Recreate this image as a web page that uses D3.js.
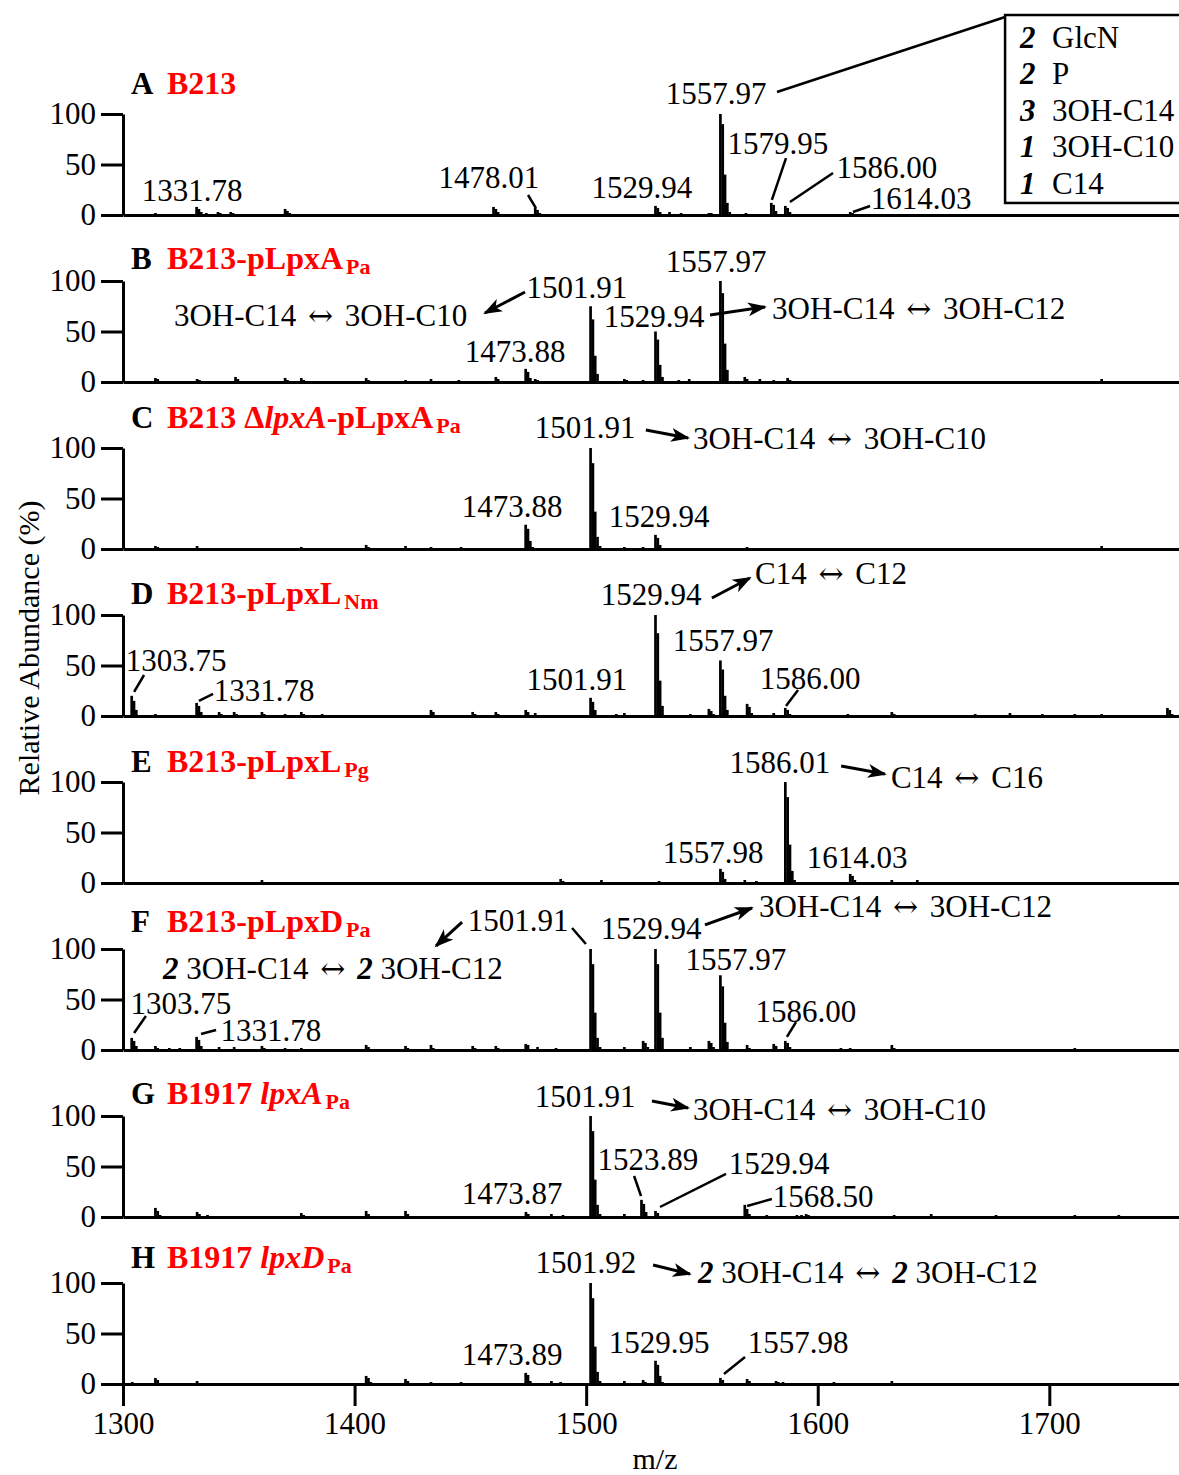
<!DOCTYPE html>
<html>
<head>
<meta charset="utf-8">
<script src="https://cdn.jsdelivr.net/npm/d3@7"></script>
<style>
  body { margin: 0; background: #fff; }
  text { font-family: "Liberation Serif", "Times New Roman", serif; white-space: pre; }
</style>
</head>
<body>
<div id="chart"></div>
<script>
// axis settings
const mzDomain = [1300, 1756];
const xTicks = [1300, 1400, 1500, 1600, 1700];
const yTicks = [0, 50, 100];

// panel headings
const panelLetters = ["A", "B", "C", "D", "E", "F", "G", "H"];
const panelTitles = [
  [{t: "B213"}],
  [{t: "B213-pLpxA"}, {t: "Pa", sub: true}],
  [{t: "B213 Δ"}, {t: "lpxA", it: true}, {t: "-pLpxA"}, {t: "Pa", sub: true}],
  [{t: "B213-pLpxL"}, {t: "Nm", sub: true}],
  [{t: "B213-pLpxL"}, {t: "Pg", sub: true}],
  [{t: "B213-pLpxD"}, {t: "Pa", sub: true}],
  [{t: "B1917 "}, {t: "lpxA", it: true}, {t: "Pa", sub: true}],
  [{t: "B1917 "}, {t: "lpxD", it: true}, {t: "Pa", sub: true}]
];
const titleV = [130.7, 122.8, 130.7, 121.8, 120.8, 127.7, 122.8, 125.7];

// spectra: [m/z, relative abundance %]
const peaksA = [[1314,2],[1331.78,8],[1332.78,6],[1333.78,3],[1336,2],[1341,3],[1342,2],[1346.5,3],[1347.5,2],[1350,1],[1352,1],
  [1370,6],[1371,4],[1372,2],[1388,1],[1395,1],[1397,1],[1460,8],[1461,6],[1462,3],[1478.01,7],[1479,5],[1480,2],[1493,1],[1500,1],
  [1516,1],[1529.94,9],[1530.94,7],[1531.94,3],[1536,3],[1537,1],[1541,2],[1549,1],[1553,2],[1554,2],
  [1557.97,100],[1558.97,90],[1559.97,40],[1560.97,12],[1562,3],[1569,2],[1572,1],[1575,1],
  [1579.95,12],[1580.95,10],[1581.95,4],[1586.00,9],[1587,7],[1588,3],[1597,1],[1614.03,3],[1615,2],[1640,1],[1680,1],[1700,1]];
const peaksB = [[1314,4],[1315,3],[1316,1],[1332,3],[1333,2],[1348.6,5],[1349.6,3],[1370,4],[1371,2],[1377,4],[1378,2],
  [1405,4],[1406,2],[1422,2],[1433,3],[1434,1],[1445,2],[1461,5],[1462,3],[1473.88,13],[1474.88,10],[1475.9,4],[1478,3],[1479,2],[1486,1],
  [1501.91,75],[1502.91,62],[1503.91,26],[1504.91,8],[1516.5,3],[1517.5,2],[1524.6,2],
  [1529.94,50],[1530.94,42],[1531.94,17],[1532.94,5],[1540,2],[1544.5,3],[1545.5,1],
  [1557.97,100],[1558.97,88],[1559.97,38],[1560.97,12],[1568.5,5],[1569.5,3],[1575,3],[1581,2],[1587,4],[1588,2],
  [1625,1],[1637,1],[1722.6,3],[1723.6,1]];
const peaksC = [[1314,3],[1315,2],[1332,3],[1333,1],[1377,2],[1405,4],[1406,2],[1422,3],[1433,2],[1446,2],
  [1473.88,24],[1474.88,20],[1475.88,8],[1476.88,2],[1501.91,100],[1502.91,85],[1503.91,37],[1504.91,12],[1506,3],
  [1516.5,2],[1524.6,2],[1529.94,14],[1530.94,11],[1531.94,4],[1569.5,2],[1722.6,3],[1723.6,1]];
const peaksD = [[1303.75,20],[1304.75,15],[1305.75,6],[1314,2],[1331.78,13],[1332.78,10],[1333.78,4],[1341.5,4],[1342.5,2],
  [1348,4],[1349,2],[1360,4],[1361,2],[1370,2],[1377,4],[1378,2],[1386,2],[1395,1],[1405,1],[1433,6],[1434,4],[1435,1],
  [1451,4],[1452,2],[1461,4],[1462,2],[1473.9,6],[1474.9,4],[1478,3],[1501.91,18],[1502.91,14],[1503.91,6],[1513,2],
  [1516.5,3],[1517.5,1],[1529.94,100],[1530.94,82],[1531.94,35],[1532.94,10],[1545,2],[1553,7],[1554,5],[1555,2],
  [1557.97,55],[1558.97,46],[1559.97,20],[1560.97,6],[1569.5,12],[1570.5,9],[1571.5,3],[1581,3],[1586.00,8],[1587,6],[1588,2],
  [1613,2],[1632,4],[1633,2],[1668,2],[1683,3],[1684,1],[1697,2],[1711,2],[1722.6,2],[1751,8],[1752,6],[1753,2]];
const peaksE = [[1318,1],[1331,1],[1344,1],[1360,3],[1361,1],[1377,1],[1393,1],[1416,1],[1439,1],[1489,4],[1490,2],
  [1506.6,3],[1507.6,1],[1531.5,2],[1557.98,14],[1558.98,11],[1559.98,4],[1568.5,3],[1573.5,2],
  [1586.01,100],[1587.01,85],[1588.01,38],[1589.01,12],[1590,3],[1614.03,9],[1615.03,7],[1616.03,3],
  [1632,3],[1643,3],[1644,1],[1668,1]];
const peaksF = [[1303.75,12],[1304.75,9],[1305.75,4],[1314,4],[1315,2],[1320,2],[1324.5,2],[1331.78,13],[1332.78,10],[1333.78,4],
  [1341.5,3],[1348,3],[1360,4],[1361,2],[1370,2],[1377,2],[1388,1],[1405,5],[1406,3],[1422,4],[1423,2],[1433,5],[1434,2],
  [1451,4],[1452,2],[1461,4],[1462,2],[1473.9,6],[1474.9,5],[1479,3],[1487,2],
  [1501.91,100],[1502.91,85],[1503.91,37],[1504.91,12],[1506,3],[1516.5,3],[1524.6,9],[1525.6,7],[1526.6,3],
  [1529.94,100],[1530.94,85],[1531.94,37],[1532.94,12],[1545,3],[1553,9],[1554,7],[1555,3],
  [1557.97,74],[1558.97,63],[1559.97,27],[1560.97,8],[1569.5,5],[1570.5,2],[1581,6],[1582,4],[1586.00,9],[1587,7],[1588,3],
  [1610,2],[1614,2],[1632,5],[1633,2],[1711,2]];
const peaksG = [[1314,9],[1315,6],[1316,2],[1332,5],[1333,3],[1336.5,2],[1377,4],[1378,2],[1405,6],[1406,3],[1422,6],[1423,3],
  [1474,5],[1475,3],[1485,3],[1490,2],[1501.91,100],[1502.91,85],[1503.91,37],[1504.91,12],[1506,3],[1516.5,3],
  [1523.89,17],[1524.89,13],[1525.89,5],[1529.94,6],[1530.94,4],[1568.50,12],[1569.5,8],[1570.5,3],[1578,2],
  [1591,2],[1593,2],[1595,3],[1596,2],[1633,2],[1649,3],[1650,1],[1677,2],[1711,2],[1730,2]];
const peaksH = [[1304,2],[1314,6],[1315,4],[1316,1],[1332,3],[1333,1],[1377,1],[1405,8],[1406,6],[1407,2],[1422,5],[1423,3],
  [1433,2],[1446,2],[1473.89,11],[1474.89,9],[1475.89,3],[1485,3],[1489,2],
  [1501.92,100],[1502.92,85],[1503.92,37],[1504.92,12],[1506,3],[1516.5,3],[1524.6,4],[1525.6,2],
  [1529.95,23],[1530.95,19],[1531.95,8],[1532.95,2],[1557.98,6],[1558.98,4],[1569.5,5],[1570.5,3],
  [1582,3],[1583,2],[1585,2],[1607,2],[1632,3],[1633,1],[1669,1],[1711,1]];

// annotations, placed in data units [m/z, %]
const two = {t: "2", bi: true};
const arr = {t: "↔", sym: true};
const annA = [
  {t: "1331.78", at: [1329.8, 24.8]},
  {t: "1478.01", at: [1458, 37.6]},
  {line: [[1474.9, 19.8], [1478.3, 6.9]]},
  {t: "1529.94", at: [1524.1, 27.7]},
  {t: "1557.97", at: [1556.1, 120.8]},
  {line: [[1582.4, 121.8], [1680.9, 196]]},
  {t: "1579.95", at: [1582.8, 71.3]},
  {line: [[1586.3, 56.4], [1580.2, 14.9]]},
  {t: "1586.00", at: [1629.9, 47.5]},
  {line: [[1606.6, 41.6], [1588, 12.9]]},
  {t: "1614.03", at: [1644.6, 16.8]},
  {line: [[1622.6, 8.9], [1615.2, 3]]}
];
const annB = [
  {t: "1557.97", at: [1556.1, 119.8]},
  {t: "1501.91", at: [1496, 94]},
  {arrow: [[1473.6, 89.1], [1456.3, 68.3]]},
  {segs: [{t: "3OH-C14 "}, arr, {t: " 3OH-C10", gap: true}], at: [1322, 66.3], anchor: "start"},
  {t: "1473.88", at: [1469.3, 30.7]},
  {t: "1529.94", at: [1529.3, 65.3]},
  {arrow: [[1553.5, 66.3], [1577.2, 74.3]]},
  {segs: [{t: "3OH-C14 "}, arr, {t: " 3OH-C12", gap: true}], at: [1580.3, 73.3], anchor: "start"}
];
const annC = [
  {t: "1501.91", at: [1499.5, 120.8]},
  {arrow: [[1525.8, 117.8], [1544, 109.9]]},
  {segs: [{t: "3OH-C14 "}, arr, {t: " 3OH-C10", gap: true}], at: [1546.1, 109.9], anchor: "start"},
  {t: "1473.88", at: [1468, 42.6]},
  {t: "1529.94", at: [1531.5, 32.7]}
];
const annD = [
  {t: "1529.94", at: [1528, 120.8]},
  {arrow: [[1554.3, 116.8], [1570.7, 136.6]]},
  {segs: [{t: "C14 "}, arr, {t: " C12", gap: true}], at: [1572.9, 141.6], anchor: "start"},
  {t: "1557.97", at: [1559.1, 75.2]},
  {t: "1303.75", at: [1322.9, 55.4]},
  {line: [[1304.8, 23.8], [1309.1, 40.6]]},
  {t: "1331.78", at: [1360.9, 25.7]},
  {line: [[1332.8, 14.9], [1338.9, 21.8]]},
  {t: "1501.91", at: [1496, 36.6]},
  {t: "1586.00", at: [1596.7, 37.6]},
  {line: [[1591.5, 25.7], [1586.3, 9.9]]}
];
const annE = [
  {t: "1586.01", at: [1583.7, 119.8]},
  {arrow: [[1610.1, 115.8], [1629, 107.9]]},
  {segs: [{t: "C14 "}, arr, {t: " C16", gap: true}], at: [1631.6, 105], anchor: "start"},
  {t: "1557.98", at: [1554.8, 30.7]},
  {t: "1614.03", at: [1617, 25.7]}
];
const annF = [
  {t: "1501.91", at: [1470.6, 128.7]},
  {line: [[1493.9, 120.8], [1499.9, 105]]},
  {arrow: [[1446.4, 126.7], [1435.2, 103]]},
  {segs: [two, {t: " 3OH-C14 "}, arr, {t: " ", gap: true}, two, {t: " 3OH-C12"}], at: [1317.3, 81.2], anchor: "start"},
  {t: "1529.94", at: [1528, 120.8]},
  {arrow: [[1551.3, 123.8], [1571.6, 140.6]]},
  {segs: [{t: "3OH-C14 "}, arr, {t: " 3OH-C12", gap: true}], at: [1574.6, 142.6], anchor: "start"},
  {t: "1557.97", at: [1564.7, 90.1]},
  {t: "1303.75", at: [1325, 46.5]},
  {line: [[1304.8, 16.8], [1309.9, 33.7]]},
  {t: "1331.78", at: [1363.9, 19.8]},
  {line: [[1333.7, 15.8], [1340.2, 19.8]]},
  {t: "1586.00", at: [1594.9, 38.6]},
  {line: [[1590.6, 27.7], [1586.7, 12.9]]}
];
const annG = [
  {t: "1501.91", at: [1499.5, 119.8]},
  {arrow: [[1528.4, 114.9], [1544, 108]]},
  {segs: [{t: "3OH-C14 "}, arr, {t: " 3OH-C10", gap: true}], at: [1546.1, 106.9], anchor: "start"},
  {t: "1523.89", at: [1526.7, 57.4]},
  {line: [[1520.7, 40.6], [1523.7, 20.8]]},
  {t: "1529.94", at: [1583.3, 53.5]},
  {line: [[1560.4, 42.6], [1531.9, 9.9]]},
  {t: "1473.87", at: [1468, 23.8]},
  {t: "1568.50", at: [1602.3, 20.8]},
  {line: [[1569.5, 10.9], [1580.2, 17.8]]}
];
const annH = [
  {t: "1501.92", at: [1499.9, 120.8]},
  {arrow: [[1528.9, 117.8], [1544.8, 108.9]]},
  {segs: [two, {t: " 3OH-C14 "}, arr, {t: " ", gap: true}, two, {t: " 3OH-C12"}], at: [1548.3, 110.9], anchor: "start"},
  {t: "1473.89", at: [1468, 29.7]},
  {t: "1529.95", at: [1531.5, 41.6]},
  {t: "1557.98", at: [1591.5, 41.6]},
  {line: [[1568.6, 26.7], [1559.5, 9.9]]}
];

// composition box in panel A
const legendCounts = ["2", "2", "3", "1", "1"];
const legendNames = ["GlcN", "P", "3OH-C14", "3OH-C10", "C14"];
const legendV = [176.2, 140.6, 104, 68.3, 31.7];

const spectra = [peaksA, peaksB, peaksC, peaksD, peaksE, peaksF, peaksG, peaksH];
const annotations = [annA, annB, annC, annD, annE, annF, annG, annH];

const width = 1179, height = 1475;
const firstBase = 215, step = 167;

const svg = d3.select("#chart").append("svg")
  .attr("width", width)
  .attr("height", height);

svg.append("defs").append("marker")
  .attr("id", "head")
  .attr("markerUnits", "userSpaceOnUse")
  .attr("markerWidth", 20).attr("markerHeight", 16)
  .attr("refX", 17).attr("refY", 8)
  .attr("orient", "auto")
  .append("path")
  .attr("d", "M0,1 L19,8 L0,15 L5,8 Z")
  .attr("fill", "#000");

const x = d3.scaleLinear().domain(mzDomain).range([123, 1179]);
const y = d3.scaleLinear().domain([0, 100]).range([0, -101]);

function addText(g, a) {
  const t = g.append("text")
    .attr("x", x(a.at[0]))
    .attr("y", y(a.at[1]))
    .attr("dy", "0.35em")
    .attr("text-anchor", a.anchor || "middle")
    .attr("font-size", 31);
  (a.segs || [{t: a.t}]).forEach(s => {
    const ts = t.append("tspan").text(s.t);
    if (s.bi) ts.attr("font-weight", "bold").attr("font-style", "italic");
    if (s.sym) ts.attr("font-family", "DejaVu Serif").attr("font-size", 30).attr("dx", 4);
    if (s.gap) ts.attr("dx", 4);
  });
}

spectra.forEach((peaks, i) => {
  const last = i === spectra.length - 1;
  const g = svg.append("g").attr("transform", `translate(0,${firstBase + i * step})`);

  // sticks
  g.selectAll("line.peak")
    .data(peaks)
    .join("line")
    .attr("class", "peak")
    .attr("x1", d => x(d[0]))
    .attr("x2", d => x(d[0]))
    .attr("y1", y(0))
    .attr("y2", d => y(d[1]))
    .attr("stroke", "#000")
    .attr("stroke-width", 2.7);

  // x axis (labels only on the bottom panel)
  const xa = g.append("g")
    .call(d3.axisBottom(x)
      .tickValues(last ? xTicks : [])
      .tickSize(last ? 22 : 0)
      .tickSizeOuter(0)
      .tickPadding(6)
      .tickFormat(d3.format("d")))
    .attr("font-family", null)
    .attr("font-size", 31);
  xa.selectAll("path, line").attr("stroke-width", 3);

  // y axis
  const ya = g.append("g")
    .attr("transform", "translate(123,0)")
    .call(d3.axisLeft(y).tickValues(yTicks).tickSize(22).tickSizeOuter(0).tickPadding(5))
    .attr("font-family", null)
    .attr("font-size", 31);
  ya.selectAll("path, line").attr("stroke-width", 3);

  // panel heading
  g.append("text")
    .attr("x", x(1303.5)).attr("y", y(titleV[i])).attr("dy", "0.35em")
    .attr("font-size", 31).attr("font-weight", "bold")
    .text(panelLetters[i]);
  const tt = g.append("text")
    .attr("x", x(1319)).attr("y", y(titleV[i])).attr("dy", "0.35em")
    .attr("font-size", 32).attr("font-weight", "bold").attr("fill", "#ff0000");
  panelTitles[i].forEach(s => {
    const ts = tt.append("tspan").text(s.t);
    if (s.it) ts.attr("font-style", "italic");
    if (s.sub) ts.attr("font-size", 22).attr("dx", 3).attr("dy", 5);
  });

  // annotations
  annotations[i].forEach(a => {
    if (a.line || a.arrow) {
      const p = a.line || a.arrow;
      const ln = g.append("line")
        .attr("x1", x(p[0][0])).attr("y1", y(p[0][1]))
        .attr("x2", x(p[1][0])).attr("y2", y(p[1][1]))
        .attr("stroke", "#000")
        .attr("stroke-width", a.arrow ? 3 : 2.5);
      if (a.arrow) ln.attr("marker-end", "url(#head)");
    } else {
      addText(g, a);
    }
  });

  // composition box
  if (i === 0) {
    g.append("rect")
      .attr("x", x(1680.9)).attr("y", y(198))
      .attr("width", 300).attr("height", y(11.9) - y(198))
      .attr("fill", "#fff").attr("stroke", "#000").attr("stroke-width", 2.5);
    legendCounts.forEach((c, k) => {
      g.append("text")
        .attr("x", x(1687.3)).attr("y", y(legendV[k])).attr("dy", "0.35em")
        .attr("font-size", 31).attr("font-weight", "bold").attr("font-style", "italic")
        .text(c);
      g.append("text")
        .attr("x", x(1701.2)).attr("y", y(legendV[k])).attr("dy", "0.35em")
        .attr("font-size", 31)
        .text(legendNames[k]);
    });
  }
});

// axis titles
svg.append("text")
  .attr("transform", "translate(28,648) rotate(-90)")
  .attr("text-anchor", "middle")
  .attr("dy", "0.35em")
  .attr("font-size", 30)
  .text("Relative Abundance (%)");

svg.append("text")
  .attr("x", 655).attr("y", 1458).attr("dy", "0.35em")
  .attr("text-anchor", "middle")
  .attr("font-size", 30)
  .text("m/z");
</script>
</body>
</html>
